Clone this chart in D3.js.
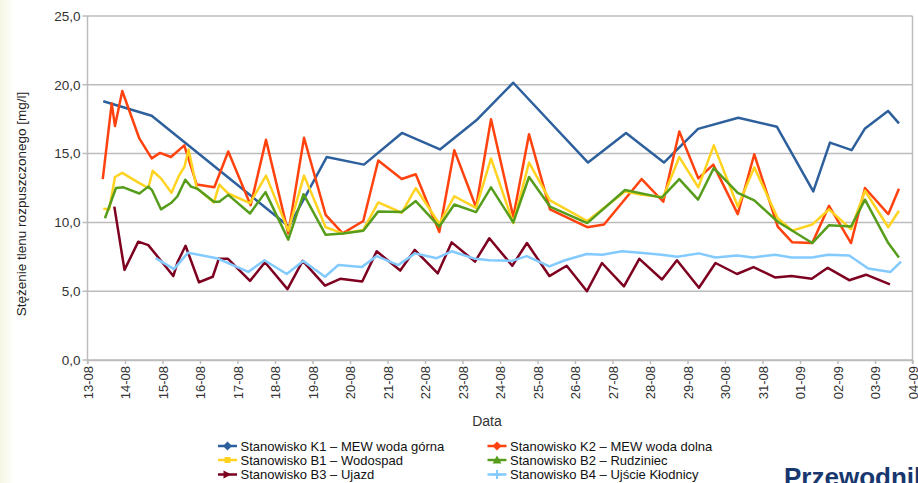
<!DOCTYPE html>
<html lang="pl">
<head>
<meta charset="utf-8">
<script src="https://cdn.jsdelivr.net/npm/d3@7"></script>
<style>
  html, body { margin: 0; padding: 0; background: #fff; }
  svg { display: block; font-family: "Liberation Sans", Arial, sans-serif; }
</style>
</head>
<body>
<svg id="chart" width="918" height="483"></svg>
<script>
// Pomiary stężenia tlenu rozpuszczonego [mg/l] – [czas pomiaru, wartość]
const k1 = [["13-08 10:05",18.8],["14-08 17:05",17.75],["18-08 08:55",9.7],["19-08 09:05",14.75],["20-08 08:55",14.2],["21-08 09:15",16.5],["22-08 09:35",15.3],["23-08 08:40",17.4],["24-08 08:30",20.15],["26-08 08:20",14.35],["27-08 08:40",16.5],["28-08 08:55",14.35],["29-08 06:45",16.8],["30-08 08:30",17.6],["31-08 09:15",16.95],["01-09 08:30",12.25],["01-09 19:10",15.8],["02-09 09:05",15.25],["02-09 17:25",16.8],["03-09 08:20",18.1],["03-09 15:20",17.2]];
const k2 = [["13-08 09:45",13.15],["13-08 15:30",18.65],["13-08 17:35",17.0],["13-08 22:15",19.55],["14-08 09:10",16.1],["14-08 17:05",14.65],["14-08 22:25",15.05],["15-08 05:25",14.75],["15-08 13:55",15.6],["15-08 21:55",12.75],["16-08 09:10",12.55],["16-08 18:05",15.15],["17-08 08:25",11.25],["17-08 18:15",16.0],["18-08 08:30",9.2],["18-08 18:35",16.15],["19-08 08:25",10.55],["19-08 19:20",9.2],["20-08 08:30",10.1],["20-08 18:05",14.5],["21-08 09:05",13.15],["21-08 18:05",13.5],["22-08 09:10",9.3],["22-08 18:45",15.25],["23-08 08:40",11.1],["23-08 18:15",17.5],["24-08 08:30",10.4],["24-08 18:35",16.4],["25-08 08:00",10.95],["26-08 07:50",9.65],["26-08 18:35",9.85],["27-08 18:40",13.15],["28-08 08:30",11.5],["28-08 18:45",16.6],["29-08 06:55",13.2],["29-08 16:30",14.2],["30-08 08:10",10.6],["30-08 18:45",14.95],["31-08 09:45",9.7],["31-08 19:05",8.55],["01-09 07:50",8.5],["01-09 18:35",11.2],["02-09 08:40",8.5],["02-09 17:35",12.5],["03-09 08:30",10.6],["03-09 15:20",12.45]];
const b1 = [["13-08 10:05",11.0],["13-08 13:55",10.95],["13-08 17:35",13.3],["13-08 22:15",13.6],["14-08 09:10",12.85],["14-08 14:55",12.5],["14-08 17:45",13.75],["14-08 23:00",13.2],["15-08 05:45",12.15],["15-08 10:35",13.4],["15-08 14:05",14.05],["15-08 16:40",15.3],["15-08 21:55",12.5],["16-08 08:55",11.45],["16-08 12:20",12.75],["16-08 18:05",12.1],["17-08 08:00",11.4],["17-08 18:15",13.4],["18-08 08:30",9.4],["18-08 18:35",13.4],["19-08 08:25",9.65],["19-08 19:20",9.2],["20-08 08:30",9.45],["20-08 18:05",11.45],["21-08 09:05",10.7],["21-08 18:05",12.5],["22-08 09:10",9.9],["22-08 18:45",11.9],["23-08 08:40",11.05],["23-08 18:15",14.65],["24-08 08:30",9.95],["24-08 18:35",14.35],["25-08 08:00",11.6],["26-08 07:50",10.1],["27-08 08:00",12.25],["27-08 18:40",12.0],["28-08 08:30",11.85],["28-08 18:45",14.75],["29-08 06:55",12.55],["29-08 16:50",15.6],["30-08 08:10",11.15],["30-08 18:45",14.0],["31-08 09:45",10.3],["31-08 19:05",9.4],["01-09 07:50",9.85],["01-09 18:35",10.95],["02-09 08:40",9.5],["02-09 17:35",12.3],["03-09 08:30",9.65],["03-09 15:20",10.85]];
const b2 = [["13-08 11:10",10.3],["13-08 18:15",12.5],["13-08 23:00",12.55],["14-08 09:10",12.1],["14-08 14:55",12.6],["14-08 17:15",12.35],["14-08 23:00",10.95],["15-08 05:55",11.45],["15-08 09:35",11.9],["15-08 14:35",13.1],["15-08 18:15",12.6],["15-08 22:20",12.45],["16-08 08:55",11.5],["16-08 12:20",11.5],["16-08 18:05",12.0],["17-08 08:00",10.65],["17-08 17:55",12.2],["18-08 08:30",8.75],["18-08 18:15",12.05],["19-08 08:25",9.1],["19-08 19:20",9.2],["20-08 08:30",9.4],["20-08 18:05",10.8],["21-08 09:05",10.75],["21-08 18:05",11.55],["22-08 09:10",9.7],["22-08 18:45",11.3],["23-08 08:40",10.75],["23-08 18:15",12.55],["24-08 08:30",10.0],["24-08 18:35",13.3],["25-08 08:00",11.15],["26-08 07:50",9.95],["27-08 08:00",12.35],["28-08 07:30",11.8],["28-08 18:45",13.15],["29-08 06:45",11.65],["29-08 16:50",13.95],["30-08 08:10",12.15],["30-08 18:45",11.6],["31-08 09:45",10.05],["01-09 07:50",8.5],["01-09 18:35",9.8],["02-09 08:40",9.7],["02-09 17:35",11.65],["03-09 08:30",8.5],["03-09 15:20",7.45]];
const b3 = [["13-08 17:10",11.15],["13-08 23:40",6.55],["14-08 08:30",8.6],["14-08 14:55",8.35],["15-08 06:55",6.1],["15-08 09:35",7.1],["15-08 14:45",8.3],["15-08 23:20",5.65],["16-08 08:10",6.05],["16-08 12:00",7.35],["16-08 17:55",7.35],["17-08 08:00",5.75],["17-08 17:35",7.1],["18-08 08:00",5.15],["18-08 17:45",7.2],["19-08 08:00",5.4],["19-08 17:45",5.9],["20-08 07:50",5.7],["20-08 17:05",7.9],["21-08 08:10",6.5],["21-08 17:25",8.0],["22-08 08:10",6.3],["22-08 17:05",8.55],["23-08 08:00",7.15],["23-08 17:10",8.85],["24-08 07:50",6.85],["24-08 17:15",8.5],["25-08 07:35",6.1],["25-08 18:40",6.85],["26-08 07:40",5.0],["26-08 17:15",7.05],["27-08 07:20",5.35],["27-08 17:10",7.35],["28-08 07:40",5.85],["28-08 17:15",7.25],["29-08 07:20",5.25],["29-08 17:55",7.05],["30-08 07:40",6.25],["30-08 18:15",6.75],["31-08 08:00",6.0],["31-08 18:35",6.1],["01-09 07:30",5.9],["01-09 17:45",6.7],["02-09 07:30",5.8],["02-09 18:15",6.2],["03-09 09:35",5.5]];
const b4 = [["14-08 19:40",7.4],["15-08 07:20",6.6],["15-08 16:20",7.8],["16-08 10:40",7.4],["17-08 06:55",6.4],["17-08 17:15",7.25],["18-08 07:30",6.25],["18-08 18:05",7.2],["19-08 08:00",6.05],["19-08 16:30",6.9],["20-08 07:30",6.75],["20-08 17:05",7.55],["21-08 06:55",6.9],["21-08 17:35",7.75],["22-08 07:30",7.4],["22-08 17:05",7.9],["23-08 08:00",7.35],["23-08 17:10",7.25],["24-08 07:50",7.2],["24-08 17:05",7.55],["25-08 07:35",6.8],["25-08 17:35",7.25],["26-08 07:30",7.7],["26-08 17:30",7.65],["27-08 06:05",7.9],["27-08 17:35",7.8],["28-08 07:30",7.65],["28-08 17:30",7.5],["29-08 07:20",7.75],["29-08 17:55",7.45],["30-08 07:50",7.6],["30-08 17:55",7.45],["31-08 08:00",7.65],["31-08 18:35",7.45],["01-09 07:40",7.45],["01-09 17:55",7.65],["02-09 07:30",7.6],["02-09 19:40",6.65],["03-09 09:55",6.4],["03-09 16:40",7.15]];

const seriesNames = [
  "Stanowisko K1 – MEW woda górna",
  "Stanowisko K2 – MEW woda dolna",
  "Stanowisko B1 – Wodospad",
  "Stanowisko B2 – Rudziniec",
  "Stanowisko B3 – Ujazd",
  "Stanowisko B4 – Ujście Kłodnicy"
];
const seriesData = [k1, k2, b1, b2, b3, b4];
const seriesColors = ["#2d609c", "#ff420e", "#ffd320", "#579d1c", "#7e0021", "#83caff"];
const seriesSymbols = ["diamond", "diamond", "square", "triangle", "arrow", "plus"];

const dayLabels = ["13-08","14-08","15-08","16-08","17-08","18-08","19-08","20-08","21-08","22-08","23-08","24-08","25-08","26-08","27-08","28-08","29-08","30-08","31-08","01-09","02-09","03-09","04-09"];
const yTicks = [0, 5, 10, 15, 20, 25];

const yTitle = "Stężenie tlenu rozpuszczonego [mg/l]";
const xTitle = "Data";

const svg = d3.select("#chart");
const W = 918, H = 483;
const plot = { left: 87.5, right: 912.5, top: 16, bottom: 360 };

const parseTime = d3.utcParse("%d-%m %H:%M");
const dayTime = s => parseTime(s + " 00:00");

const x = d3.scaleUtc()
  .domain([dayTime(dayLabels[0]), dayTime(dayLabels[dayLabels.length - 1])])
  .range([plot.left, plot.right]);
const y = d3.scaleLinear().domain([0, 25]).range([plot.bottom, plot.top]);

const plLocale = d3.formatLocale({ decimal: ",", thousands: " ", grouping: [3], currency: ["", " zł"] });
const fmt = plLocale.format(".1f");

// delikatne tło przy lewej krawędzi
const defs = svg.append("defs");
const grad = defs.append("linearGradient").attr("id", "edge").attr("x1", 0).attr("x2", 1);
grad.append("stop").attr("offset", 0).attr("stop-color", "#f6f6e2");
grad.append("stop").attr("offset", 1).attr("stop-color", "#ffffff");
svg.append("rect").attr("x", 0).attr("y", 0).attr("width", 14).attr("height", H).attr("fill", "url(#edge)");

// siatka pozioma
const gridColor = "#bcbcbc";
svg.append("g").selectAll("line").data(yTicks).join("line")
  .attr("x1", plot.left - 5).attr("x2", plot.right)
  .attr("y1", d => y(d)).attr("y2", d => y(d))
  .attr("stroke", gridColor).attr("stroke-width", 1.5);

// ramka osi
svg.append("line").attr("x1", plot.left).attr("x2", plot.left)
  .attr("y1", plot.top).attr("y2", plot.bottom + 4)
  .attr("stroke", gridColor).attr("stroke-width", 1.5);
svg.append("line").attr("x1", plot.right).attr("x2", plot.right)
  .attr("y1", plot.top).attr("y2", plot.bottom + 4)
  .attr("stroke", gridColor).attr("stroke-width", 1.5);

// oś X
const xAxis = d3.axisBottom(x)
  .tickValues(dayLabels.map(dayTime))
  .tickFormat((d, i) => dayLabels[i])
  .tickSize(4).tickSizeOuter(0).tickPadding(4);
const gx = svg.append("g").attr("transform", `translate(0,${plot.bottom})`).call(xAxis);
gx.select(".domain").attr("stroke", gridColor).attr("stroke-width", 1.5);
gx.selectAll(".tick line").attr("stroke", gridColor).attr("stroke-width", 1.5);
gx.selectAll(".tick text")
  .attr("font-size", 13).attr("fill", "#333")
  .attr("transform", "rotate(-90)")
  .attr("x", -6).attr("y", 0).attr("dy", "0.35em")
  .attr("text-anchor", "end");

// oś Y
const yAxis = d3.axisLeft(y).tickValues(yTicks).tickFormat(fmt).tickSize(0).tickPadding(7);
const gy = svg.append("g").attr("transform", `translate(${plot.left},0)`).call(yAxis);
gy.select(".domain").remove();
gy.selectAll(".tick text").attr("font-size", 13.5).attr("fill", "#333");

// tytuły osi
svg.append("text")
  .attr("transform", `translate(26,${(plot.top + plot.bottom) / 2 + 16}) rotate(-90)`)
  .attr("text-anchor", "middle").attr("font-size", 13.5).attr("fill", "#222")
  .text(yTitle);
svg.append("text")
  .attr("x", 487).attr("y", 426)
  .attr("text-anchor", "middle").attr("font-size", 14).attr("fill", "#333")
  .text(xTitle);

// linie serii
const line = d3.line().x(d => x(parseTime(d[0]))).y(d => y(d[1]));
svg.append("g").selectAll("path").data(seriesData).join("path")
  .attr("d", line)
  .attr("fill", "none")
  .attr("stroke", (d, i) => seriesColors[i])
  .attr("stroke-width", 2.5)
  .attr("stroke-linejoin", "round");

// legenda
function symbolPath(kind) {
  switch (kind) {
    case "diamond": return "M0,-4.5L4.5,0L0,4.5L-4.5,0Z";
    case "square": return "M-3,-3H3V3H-3Z";
    case "triangle": return "M0,-4.5L4.5,3.5H-4.5Z";
    case "arrow": return "M-4,-4L4,0L-4,4Z";
    case "plus": return "M-4.5,-1H-1V-4.5H1V-1H4.5V1H1V4.5H-1V1H-4.5Z";
  }
}
const legendCols = [218, 487.5];
const legendRows = [446, 460, 474.5];
const leg = svg.append("g");
seriesNames.forEach((name, i) => {
  const lx = legendCols[i % 2];
  const ly = legendRows[Math.floor(i / 2)];
  const g = leg.append("g").attr("transform", `translate(${lx},${ly})`);
  g.append("line").attr("x1", 0).attr("x2", 19).attr("y1", 0).attr("y2", 0)
    .attr("stroke", seriesColors[i]).attr("stroke-width", 2.5);
  g.append("path").attr("transform", "translate(9.5,0)")
    .attr("d", symbolPath(seriesSymbols[i])).attr("fill", seriesColors[i]);
  g.append("text").attr("x", 22.5).attr("y", 0).attr("dy", "0.35em")
    .attr("font-size", 13).attr("fill", "#111").text(name);
});

// nagłówek sąsiedniego bloku, ucięty przez krawędź
svg.append("text").attr("x", 784).attr("y", 486)
  .attr("font-size", 26).attr("font-weight", "bold").attr("fill", "#17376e")
  .text("Przewodnik");
</script>
</body>
</html>
